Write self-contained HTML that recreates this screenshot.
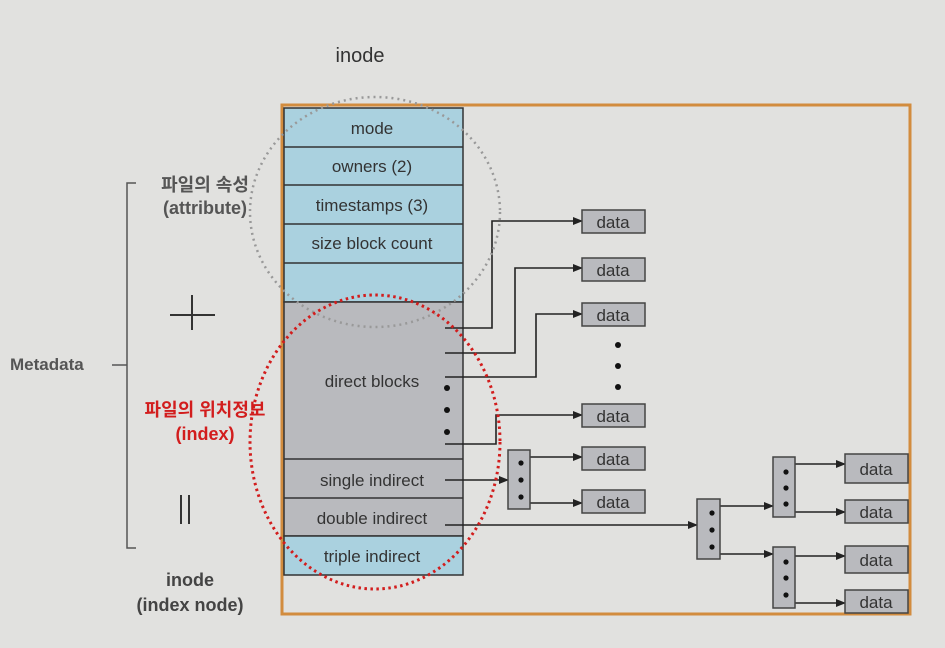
<!DOCTYPE html>
<html><head><meta charset="utf-8"><style>
body{margin:0;background:#e1e1df;}
svg{display:block;}
text{font-family:"Liberation Sans","Noto Sans CJK KR",sans-serif;}
</style></head><body>
<svg width="945" height="648" viewBox="0 0 945 648">
<defs><marker id="a" markerWidth="10" markerHeight="8" refX="9" refY="4" orient="auto" markerUnits="userSpaceOnUse"><path d="M0,0 L10,4 L0,8 Z" fill="#222"/></marker></defs>
<rect width="945" height="648" fill="#e1e1df"/>
<text x="360" y="62" font-size="20" text-anchor="middle" fill="#333">inode</text>
<rect x="282" y="105" width="628" height="509" fill="none" stroke="#d28c3e" stroke-width="3"/>
<!-- table -->
<g stroke="#333" stroke-width="1.5">
<rect x="284" y="108" width="179" height="194" fill="#aad1df"/>
<rect x="284" y="302" width="179" height="234" fill="#b9babe"/>
<rect x="284" y="536" width="179" height="39" fill="#aad1df"/>
<line x1="284" y1="147" x2="463" y2="147"/><line x1="284" y1="185" x2="463" y2="185"/>
<line x1="284" y1="224" x2="463" y2="224"/><line x1="284" y1="263" x2="463" y2="263"/>
<line x1="284" y1="459" x2="463" y2="459"/><line x1="284" y1="498" x2="463" y2="498"/>
</g>
<g font-size="17" fill="#333" text-anchor="middle">
<text x="372" y="134">mode</text><text x="372" y="172">owners (2)</text>
<text x="372" y="211">timestamps (3)</text><text x="372" y="249">size block count</text>
<text x="372" y="387">direct blocks</text><text x="372" y="486">single indirect</text>
<text x="372" y="524">double indirect</text><text x="372" y="562">triple indirect</text>
</g>
<g fill="#111"><circle cx="447" cy="388" r="3"/><circle cx="447" cy="410" r="3"/><circle cx="447" cy="432" r="3"/>
<circle cx="618" cy="345" r="3"/><circle cx="618" cy="366" r="3"/><circle cx="618" cy="387" r="3"/></g>
<g stroke="#222" stroke-width="1.6" fill="none">
<polyline points="445,328 492,328 492,221 582,221" marker-end="url(#a)"/>
<polyline points="445,353 515,353 515,268 582,268" marker-end="url(#a)"/>
<polyline points="445,377 536,377 536,314 582,314" marker-end="url(#a)"/>
<polyline points="445,444 496,444 496,415 582,415" marker-end="url(#a)"/>
<line x1="445" y1="480" x2="508" y2="480" marker-end="url(#a)"/>
<line x1="518" y1="457" x2="582" y2="457" marker-end="url(#a)"/>
<line x1="518" y1="503" x2="582" y2="503" marker-end="url(#a)"/>
<line x1="445" y1="525" x2="697" y2="525" marker-end="url(#a)"/>
<line x1="710" y1="506" x2="773" y2="506" marker-end="url(#a)"/>
<line x1="710" y1="554" x2="773" y2="554" marker-end="url(#a)"/>
<line x1="783" y1="464" x2="845" y2="464" marker-end="url(#a)"/>
<line x1="783" y1="512" x2="845" y2="512" marker-end="url(#a)"/>
<line x1="783" y1="556" x2="845" y2="556" marker-end="url(#a)"/>
<line x1="783" y1="603" x2="845" y2="603" marker-end="url(#a)"/>
</g>
<g stroke="#444" stroke-width="1.5" fill="#b9babe">
<rect x="508" y="450" width="22" height="59"/>
<rect x="697" y="499" width="23" height="60"/>
<rect x="773" y="457" width="22" height="60"/>
<rect x="773" y="547" width="22" height="61"/>
</g>
<g fill="#111">
<circle cx="521" cy="463" r="2.6"/><circle cx="521" cy="480" r="2.6"/><circle cx="521" cy="497" r="2.6"/>
<circle cx="712" cy="513" r="2.6"/><circle cx="712" cy="530" r="2.6"/><circle cx="712" cy="547" r="2.6"/>
<circle cx="786" cy="472" r="2.6"/><circle cx="786" cy="488" r="2.6"/><circle cx="786" cy="504" r="2.6"/>
<circle cx="786" cy="562" r="2.6"/><circle cx="786" cy="578" r="2.6"/><circle cx="786" cy="595" r="2.6"/>
</g>
<g stroke="#444" stroke-width="1.5" fill="#b9babe">
<rect x="582" y="210" width="63" height="23"/><rect x="582" y="258" width="63" height="23"/>
<rect x="582" y="303" width="63" height="23"/><rect x="582" y="404" width="63" height="23"/>
<rect x="582" y="447" width="63" height="23"/><rect x="582" y="490" width="63" height="23"/>
<rect x="845" y="454" width="63" height="29"/><rect x="845" y="500" width="63" height="23"/>
<rect x="845" y="546" width="63" height="27"/><rect x="845" y="590" width="63" height="23"/>
</g>
<g font-size="17" fill="#333" text-anchor="middle">
<text x="613" y="228">data</text><text x="613" y="276">data</text><text x="613" y="321">data</text>
<text x="613" y="422">data</text><text x="613" y="465">data</text><text x="613" y="508">data</text>
<text x="876" y="475">data</text><text x="876" y="518">data</text><text x="876" y="566">data</text><text x="876" y="608">data</text>
</g>
<ellipse cx="375" cy="212" rx="125" ry="115" fill="none" stroke="#999" stroke-width="2.5" stroke-dasharray="2,4"/>
<ellipse cx="375" cy="442" rx="125" ry="147" fill="none" stroke="#d21d1d" stroke-width="3" stroke-dasharray="2.5,3.5"/>
<!-- left -->
<path d="M136,183 L127,183 L127,548 L136,548" fill="none" stroke="#555" stroke-width="1.5"/>
<line x1="112" y1="365" x2="127" y2="365" stroke="#555" stroke-width="1.5"/>
<text x="10" y="370" font-size="17" font-weight="bold" fill="#555">Metadata</text>
<text x="205" y="191" font-size="18" font-weight="bold" fill="#555" text-anchor="middle">파일의 속성</text>
<text x="205" y="214" font-size="18" font-weight="bold" fill="#555" text-anchor="middle">(attribute)</text>
<path d="M170,315 L215,315 M192,295 L192,330" stroke="#333" stroke-width="2"/>
<text x="205" y="416" font-size="18" font-weight="bold" fill="#d21d1d" text-anchor="middle">파일의 위치정보</text>
<text x="205" y="440" font-size="18" font-weight="bold" fill="#d21d1d" text-anchor="middle">(index)</text>
<path d="M181,495 L181,524 M189,495 L189,524" stroke="#333" stroke-width="2"/>
<text x="190" y="586" font-size="18" font-weight="bold" fill="#444" text-anchor="middle">inode</text>
<text x="190" y="611" font-size="18" font-weight="bold" fill="#444" text-anchor="middle">(index node)</text>
</svg>
</body></html>
